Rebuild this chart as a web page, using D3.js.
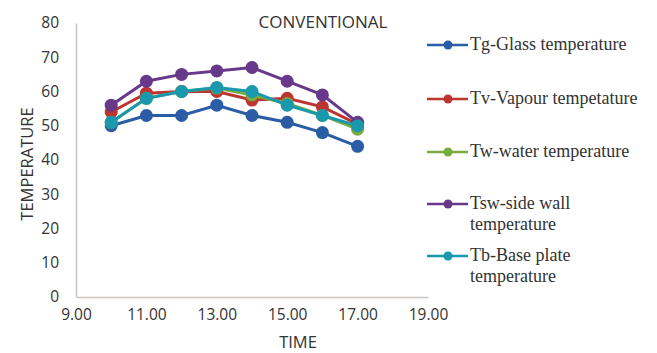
<!DOCTYPE html>
<html>
<head>
<meta charset="utf-8">
<script src="https://cdn.jsdelivr.net/npm/d3@7"></script>
<style>
  html, body { margin: 0; padding: 0; background: #fff; }
  svg { display: block; }
</style>
</head>
<body>
<svg id="chart" width="657" height="353"></svg>
<script>
// Hourly readings of the conventional still
const hours = [10, 11, 12, 13, 14, 15, 16, 17];
const glassTemp     = [50, 53, 53, 56, 53, 51, 48, 44];
const vapourTemp    = [54, 59.5, 60, 60, 57.5, 58, 55.5, 50.5];
const waterTemp     = [51, 58, 60, 61, 59, 56.5, 53, 49];
const sideWallTemp  = [56, 63, 65, 66, 67, 63, 59, 51];
const basePlateTemp = [51, 58, 60, 61.2, 60, 56, 53, 50];

const xTicks = [9, 11, 13, 15, 17, 19];
const yTicks = [0, 10, 20, 30, 40, 50, 60, 70, 80];

const seriesNames = [
  ["Tg-Glass temperature"],
  ["Tv-Vapour tempetature"],
  ["Tw-water temperature"],
  ["Tsw-side wall", "temperature"],
  ["Tb-Base plate", "temperature"]
];
const seriesValues = [glassTemp, vapourTemp, waterTemp, sideWallTemp, basePlateTemp];
const seriesColors = ["#2b5ca6", "#bd3530", "#7aab3c", "#68398a", "#1a98ad"];

const svg = d3.select("#chart");
const plot = { left: 76, right: 428, top: 23, bottom: 297 };

const x = d3.scaleLinear().domain([9, 19]).range([plot.left, plot.right]);
const y = d3.scaleLinear().domain([0, 80]).range([plot.bottom, plot.top]);

const sans = "'Open Sans', 'Liberation Sans', sans-serif";
const serif = "'Liberation Serif', 'DejaVu Serif', serif";

// Axes: light grey frame lines on the left and bottom, no tick marks
const xAxis = svg.append("g")
  .attr("transform", `translate(0,${plot.bottom})`)
  .call(d3.axisBottom(x).tickValues(xTicks).tickSize(0).tickPadding(12)
    .tickFormat(d => d3.format(".2f")(d)));
const yAxis = svg.append("g")
  .attr("transform", `translate(${plot.left},0)`)
  .call(d3.axisLeft(y).tickValues(yTicks).tickSize(0).tickPadding(17));

[xAxis, yAxis].forEach(g => {
  g.select(".domain").attr("stroke", "#c9c6c2").attr("stroke-width", 1.5);
  g.selectAll("text")
    .attr("font-family", sans)
    .attr("font-size", 15.5)
    .attr("fill", "#333");
});

// Axis titles and chart title
svg.append("text")
  .attr("x", 298).attr("y", 348)
  .attr("text-anchor", "middle")
  .attr("font-family", sans).attr("font-size", 16.5).attr("fill", "#333")
  .text("TIME");
svg.append("text")
  .attr("transform", "translate(33,164) rotate(-90)")
  .attr("text-anchor", "middle")
  .attr("font-family", sans).attr("font-size", 16.5).attr("fill", "#333")
  .text("TEMPERATURE");
svg.append("text")
  .attr("x", 323).attr("y", 28)
  .attr("text-anchor", "middle")
  .attr("font-family", sans).attr("font-size", 17).attr("fill", "#333")
  .text("CONVENTIONAL");

// Series lines with round markers
const line = d3.line().x((d, i) => x(hours[i])).y(d => y(d));

seriesValues.forEach((vals, s) => {
  const g = svg.append("g");
  g.append("path")
    .datum(vals)
    .attr("d", line)
    .attr("fill", "none")
    .attr("stroke", seriesColors[s])
    .attr("stroke-width", 3);
  g.selectAll("circle")
    .data(vals)
    .join("circle")
    .attr("cx", (d, i) => x(hours[i]))
    .attr("cy", d => y(d))
    .attr("r", 6.5)
    .attr("fill", seriesColors[s]);
});

// Legend
const legendY = [45, 99, 152, 204, 256];
const legend = svg.append("g");
seriesNames.forEach((lines, s) => {
  const g = legend.append("g").attr("transform", `translate(0,${legendY[s]})`);
  g.append("line")
    .attr("x1", 427).attr("x2", 468).attr("y1", 0).attr("y2", 0)
    .attr("stroke", seriesColors[s]).attr("stroke-width", 2.5);
  g.append("circle")
    .attr("cx", 448).attr("cy", 0).attr("r", 4.5)
    .attr("fill", seriesColors[s]);
  const t = g.append("text")
    .attr("x", 470).attr("y", 5)
    .attr("font-family", serif).attr("font-size", 18).attr("fill", "#333");
  lines.forEach((ln, k) => {
    t.append("tspan").attr("x", 470).attr("dy", k === 0 ? 0 : 21).text(ln);
  });
});
</script>
</body>
</html>
